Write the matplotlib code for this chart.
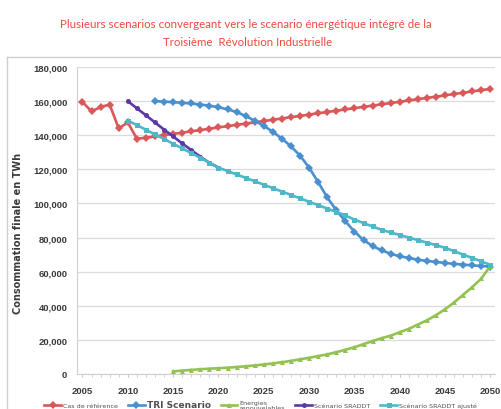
import numpy as np
import matplotlib
matplotlib.use("Agg")
import matplotlib.pyplot as plt
from matplotlib.lines import Line2D
from matplotlib.ticker import FuncFormatter, MultipleLocator

# Consommation finale (milliers de TWh) par scenario
years_ref = list(range(2005, 2051))
ref = [159.5, 154.0, 156.5, 158.0, 144.0, 147.5, 138.0, 138.5, 139.3, 140.0,
       140.8, 141.5, 142.3, 143.0, 143.8, 144.6, 145.3, 146.1, 146.8, 147.6,
       148.3, 149.1, 149.8, 150.6, 151.3, 152.1, 152.9, 153.6, 154.4, 155.1,
       155.9, 156.6, 157.4, 158.1, 158.9, 159.6, 160.4, 161.1, 161.9, 162.6,
       163.4, 164.2, 164.9, 165.7, 166.4, 167.2]

years_tri = list(range(2013, 2051))
tri = [160.0, 159.7, 159.4, 159.0, 158.6, 158.0, 157.3, 156.4, 155.2, 153.6,
       151.3, 148.5, 145.5, 142.0, 138.0, 133.5, 128.0, 121.0, 112.5, 103.5,
       96.0, 89.5, 83.5, 78.5, 75.0, 72.5, 70.5, 69.0, 68.0, 67.0,
       66.3, 65.7, 65.1, 64.6, 64.1, 63.7, 63.3, 63.0]

years_enr = list(range(2015, 2051))
enr = [1.5, 2.0, 2.4, 2.8, 3.1, 3.4, 3.7, 4.1, 4.5, 5.0,
       5.6, 6.2, 6.9, 7.7, 8.6, 9.5, 10.5, 11.5, 12.8, 14.2,
       15.7, 17.5, 19.3, 21.0, 22.5, 24.5, 26.5, 29.0, 31.5, 34.5,
       38.0, 42.0, 46.5, 51.0, 56.0, 63.5]

years_sraddt = list(range(2010, 2021))
sraddt = [160.0, 155.8, 151.7, 147.5, 143.3, 139.3, 135.2, 131.3, 127.4, 123.8, 121.0]

years_adj = list(range(2010, 2051))
sraddt_adj = [148.5, 146.0, 143.2, 140.5, 137.8, 135.0, 132.3, 129.5, 126.8, 124.0,
              121.0, 119.0, 117.0, 115.0, 113.0, 111.0, 109.0, 107.0, 105.0, 103.0,
              101.0, 99.0, 97.0, 95.0, 93.0, 90.5, 88.5, 86.5, 84.5, 83.0,
              81.5, 80.0, 78.5, 77.0, 75.5, 74.0, 72.0, 70.0, 68.0, 66.0, 64.0]

labels = ["Cas de référence", "TRI Scenario", "Energies\nrenouvelables",
          "Scénario SRADDT", "Scénario SRADDT ajusté"]
colors = ["#d9585a", "#4a8fcf", "#93c152", "#5b3aa6", "#4fb8c8"]
markers = ["D", "D", "^", "o", "s"]

fig = plt.figure(figsize=(5.01, 4.10), dpi=100)
fig.patch.set_facecolor("white")

# cadre du graphique
fig.add_artist(Line2D([7 / 501, 1], [352 / 410, 352 / 410], color="#cfcfcf", lw=1))
fig.add_artist(Line2D([7 / 501, 7 / 501], [0, 352 / 410], color="#cfcfcf", lw=1))

fig.text(0.49, 385 / 410, "Plusieurs scenarios convergeant vers le scenario énergétique intégré de la",
         ha="center", va="center", color="#ec4a3f", fontsize=8.3, family="Lato")
fig.text(0.495, 367 / 410, "Troisième  Révolution Industrielle",
         ha="center", va="center", color="#ec4a3f", fontsize=8.3, family="Lato")

ax = fig.add_axes([77 / 501, 35 / 410, 418 / 501, 307 / 410])

series = [(years_ref, ref), (years_tri, tri), (years_enr, enr),
          (years_sraddt, sraddt), (years_adj, sraddt_adj)]
handles = []
for (x, y), lab, c, m in zip(series, labels, colors, markers):
    h, = ax.plot(x, np.array(y) * 1000, color=c, lw=1.9, marker=m, ms=3.6,
                 markeredgewidth=0, label=lab, zorder=3)
    handles.append(h)

ax.set_xlim(2004.4, 2050.5)
ax.set_ylim(0, 180000)
ax.yaxis.set_major_locator(MultipleLocator(20000))
ax.yaxis.set_major_formatter(FuncFormatter(lambda v, p: f"{v:,.0f}"))
ax.set_xticks(range(2005, 2051, 5))
ax.xaxis.set_minor_locator(MultipleLocator(1))
ax.grid(axis="y", color="#dcdcdc", lw=0.9)
ax.set_axisbelow(True)

for s in ["top", "right"]:
    ax.spines[s].set_visible(False)
for s in ["left", "bottom"]:
    ax.spines[s].set_color("#d0d0d0")
ax.tick_params(axis="y", length=0, pad=7, labelsize=6.8, labelcolor="#3a3a3a")
ax.tick_params(axis="x", which="both", length=2.5, color="#c8c8c8", pad=6,
               labelsize=6.8, labelcolor="#3a3a3a")
for t in ax.get_xticklabels() + ax.get_yticklabels():
    t.set_fontweight("bold")
    t.set_family("Liberation Sans")

ax.set_ylabel("Consommation finale en TWh", fontsize=7, fontweight="bold",
              color="#3a3a3a", family="DejaVu Sans")
ax.yaxis.set_label_coords(-0.13, 0.46)

leg = fig.legend(handles, labels, loc="center", bbox_to_anchor=(0.52, 4 / 410),
                 ncol=5, frameon=False, fontsize=4.6, handlelength=2.6,
                 columnspacing=1.6, handletextpad=0.3, labelcolor="#505050")
for t in leg.get_texts():
    if t.get_text() == "TRI Scenario":
        t.set_fontweight("bold")
        t.set_fontsize(6.5)

fig.savefig("out.png", dpi=100)
